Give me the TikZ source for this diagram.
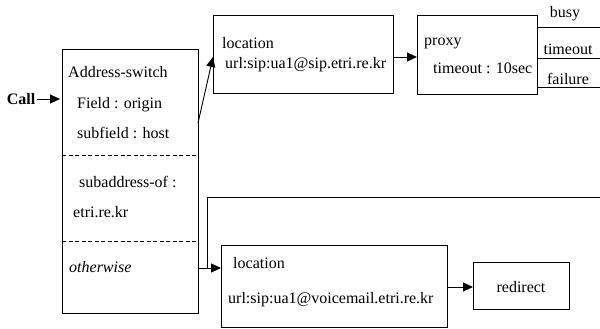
\documentclass[tikz,border=0pt]{standalone}
\usepackage{fontspec}
\setmainfont{Liberation Serif}
\usetikzlibrary{arrows.meta}
\begin{document}
\begin{tikzpicture}[x=1pt,y=-1pt,
  every node/.style={font=\fontsize{16}{18}\selectfont},
  box/.style={draw,line width=0.9pt,rectangle,inner sep=0pt},
  lbl/.style={anchor=west,inner sep=0pt},
  conn/.style={line width=0.9pt},
  arr/.style={line width=0.9pt,-{Triangle[length=10pt,width=9pt]}}]
\useasboundingbox (0,0) rectangle (600,329);
% boxes
\node[box,minimum width=136pt,minimum height=264pt] (sw) at (130,181) {};
\node[box,minimum width=180pt,minimum height=78pt] (loc1) at (303,54) {};
\node[box,minimum width=120pt,minimum height=79pt] (proxy) at (477,54.5) {};
\node[box,minimum width=226pt,minimum height=82pt] (loc2) at (334,286) {};
\node[box,minimum width=96pt,minimum height=47pt] (redir) at (521,285.5) {};
% dashed separators
\coordinate (d1a) at (62,155); \coordinate (d1b) at (198,155);
\coordinate (d2a) at (62,241); \coordinate (d2b) at (198,241);
\draw[dash pattern=on 4pt off 2.5pt,line width=0.7pt] (d1a) -- (d1b);
\draw[dash pattern=on 4pt off 2.5pt,line width=0.7pt] (d2a) -- (d2b);
% texts
\node[lbl] (t1) at (68,72) {Address-switch};
\node[lbl] (t2) at (77,105) {Field : origin};
\node[lbl] (t3) at (77,133) {subfield : host};
\node[lbl] (t4) at (79,182) {subaddress-of :};
\node[lbl] (t5) at (73,212) {etri.re.kr};
\node[lbl] (t6) at (69,267) {\itshape otherwise};
\node[lbl] (t7) at (222,43) {location};
\node[lbl] (t8) at (225,65) {url:sip:ua1@sip.etri.re.kr};
\node[lbl] (t9) at (424,43) {proxy};
\node[lbl] (t10) at (433,68) {timeout : 10sec};
\node[lbl] (t11) at (233,263) {location};
\node[lbl] (t12) at (228,300) {url:sip:ua1@voicemail.etri.re.kr};
\node[inner sep=0pt] (t13) at (521,287) {redirect};
\node[inner sep=0pt] (busy) at (565,14) {busy};
\node[inner sep=0pt] (tout) at (568,49) {timeout};
\node[inner sep=0pt] (fail) at (568,79) {failure};
\node[inner sep=0pt,font=\fontsize{16}{18}\selectfont\bfseries] (call) at (21,99) {Call};
% connectors
\coordinate (callend) at (60,99);
\draw[arr] (call.east) ++(2,0) -- (callend);
\coordinate (s1) at (198,123);
\coordinate (l1in) at (213,57);
\draw[arr] (s1) -- (l1in);
\coordinate (l1out) at (393,57);
\coordinate (pin) at (417,57);
\draw[arr] (l1out) -- (pin);
\coordinate (o1a) at (537,27); \coordinate (o1b) at (600,27);
\coordinate (o2a) at (537,58); \coordinate (o2b) at (600,58);
\coordinate (o3a) at (537,87); \coordinate (o3b) at (600,87);
\draw[conn] (o1a) -- (o1b);
\draw[conn] (o2a) -- (o2b);
\draw[conn] (o3a) -- (o3b);
\coordinate (back) at (600,197);
\coordinate (corner) at (207,197);
\coordinate (join) at (207,268);
\draw[conn] (back) -- (corner) -- (join);
\coordinate (s3) at (198,268);
\coordinate (l2in) at (221,268);
\draw[arr] (s3) -- (l2in);
\coordinate (l2out) at (447,287);
\coordinate (rin) at (473,287);
\draw[arr] (l2out) -- (rin);
\end{tikzpicture}
\end{document}
